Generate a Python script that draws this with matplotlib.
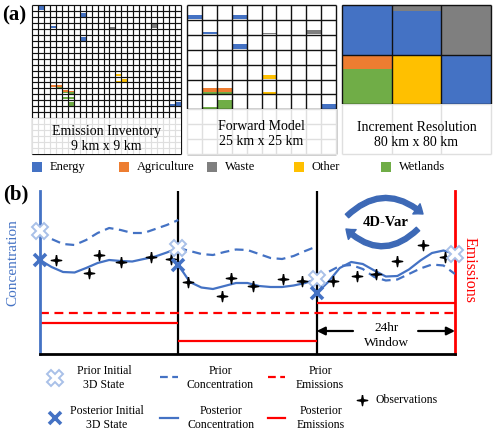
import matplotlib
matplotlib.use('Agg')
import matplotlib.pyplot as plt
from matplotlib.patches import Rectangle, FancyArrowPatch
from matplotlib.path import Path
import numpy as np

plt.rcParams['font.family'] = ['Liberation Serif', 'DejaVu Serif']

# ---------------- data: panel (a) ----------------
categories = ['Energy', 'Agriculture', 'Waste', 'Other', 'Wetlands']
cat_colors = ['#4472C4', '#ED7D31', '#7F7F7F', '#FFC000', '#70AD47']

panel_titles = ['Emission Inventory\n9 km x 9 km',
                'Forward Model\n25 km x 25 km',
                'Increment Resolution\n80 km x 80 km']
grid_cells = [25, 10, 3]
dark_rows = [19, 7, 2]

# emission patches: column, row, top fraction, bottom fraction, category index
inv_col = [1, 8, 3, 8, 13, 20, 14, 14, 15, 3, 4, 4, 5, 5, 6, 6, 5, 6, 6, 23, 24]
inv_row = [0, 1, 3, 5, 3, 3, 11, 12, 12, 13, 13, 13, 14, 14, 14, 14, 15, 15, 16, 16, 16]
inv_top = [0.15, 0.35, 0.55, 0.35, 0.65, 0.2, 0.55, 0.7, 0.4, 0.4, 0.4, 0.75, 0.25, 0.55, 0.35, 0.6, 0.4, 0.4, 0.2, 0.6, 0.2]
inv_bot = [0.85, 1.0, 0.85, 1.0, 0.95, 0.85, 0.95, 1.0, 1.0, 0.8, 0.75, 1.0, 0.55, 0.8, 0.6, 0.9, 0.8, 0.8, 0.95, 1.0, 1.0]
inv_cat = [0, 0, 0, 0, 2, 2, 3, 3, 3, 1, 1, 4, 1, 4, 1, 4, 4, 4, 4, 0, 0]

fwd_col = [0, 3, 1, 5, 8, 3, 5, 1, 2, 1, 2, 5, 1, 2, 9]
fwd_row = [0, 0, 1, 1, 1, 2, 4, 5, 5, 5, 5, 5, 6, 6, 6]
fwd_top = [0.67, 0.67, 0.83, 0.85, 0.7, 0.63, 0.72, 0.6, 0.6, 0.82, 0.82, 0.82, 0.85, 0.4, 0.64]
fwd_bot = [0.97, 0.97, 0.97, 0.97, 0.97, 0.97, 0.99, 0.82, 0.82, 0.99, 0.99, 0.99, 0.99, 0.99, 0.99]
fwd_cat = [0, 0, 0, 2, 2, 0, 3, 1, 1, 4, 4, 3, 4, 4, 0]

inc_col = [0, 1, 1, 2, 0, 0, 1, 2]
inc_row = [0, 0, 0, 0, 1, 1, 1, 1]
inc_top = [0.0, 0.0, 0.12, 0.0, 0.0, 0.28, 0.0, 0.0]
inc_bot = [1.0, 0.12, 1.0, 1.0, 0.28, 1.0, 1.0, 1.0]
inc_cat = [0, 2, 0, 2, 1, 4, 3, 0]

# ---------------- data: panel (b) ----------------
window_edges = [0, 24, 48, 72]            # hours
hours_in_window = np.arange(0, 25, 2)      # hours since window start
prior_conc = [
    [12.3, 11.5, 11.0, 10.9, 11.4, 12.1, 12.6, 12.4, 12.1, 12.1, 12.5, 12.9, 13.4],
    [10.6, 10.3, 10.0, 9.9, 10.2, 10.45, 10.4, 10.0, 9.6, 9.5, 9.8, 10.3, 10.75],
    [7.5, 8.2, 8.8, 8.9, 8.5, 7.7, 7.35, 7.45, 8.0, 8.55, 8.95, 8.85, 8.0],
]
post_conc = [
    [9.4, 8.7, 8.2, 8.15, 8.6, 9.1, 9.4, 9.3, 9.25, 9.5, 9.75, 10.15, 10.6],
    [8.9, 7.2, 6.65, 6.5, 6.8, 7.1, 7.1, 6.8, 6.7, 6.7, 6.85, 7.1, 7.5],
    [6.1, 7.2, 8.6, 9.2, 9.0, 8.35, 7.75, 7.8, 8.45, 9.35, 10.1, 10.35, 10.0],
]
obs_hours = [2.8, 8.5, 10.2, 14.1, 19.3, 22.7, 25.7, 31.6, 33.1, 37.0, 42.2, 45.5,
             50.8, 55.0, 58.3, 61.9, 66.4, 70.3]
obs_conc = [9.4, 8.1, 9.9, 9.2, 9.7, 9.5, 7.2, 5.8, 7.6, 6.8, 7.5, 7.3,
            7.3, 7.8, 8.0, 9.3, 10.9, 9.7]
prior_emis = 4.1
post_emis = [3.1, 1.3, 5.1]

BLUE = '#4472C4'
LIGHTBLUE = '#A9C0E8'
RED = '#FF0000'

W, H = 500, 433
fig = plt.figure(figsize=(W / 100, H / 100), dpi=100)


def px_axes(x0, y0, x1, y1):
    return fig.add_axes([x0 / W, 1 - y1 / H, (x1 - x0) / W, (y1 - y0) / H])


# ---------------- panel (a) grids ----------------
panel_x0 = [32, 187, 342]
text_y = [138.5, 134, 135]
cells = [(inv_col, inv_row, inv_top, inv_bot, inv_cat),
         (fwd_col, fwd_row, fwd_top, fwd_bot, fwd_cat),
         (inc_col, inc_row, inc_top, inc_bot, inc_cat)]
for i in range(3):
    ax = px_axes(panel_x0[i], 5, panel_x0[i] + 149, 154)
    n = grid_cells[i]
    ax.set_xlim(0, n)
    ax.set_ylim(n, 0)
    ax.axis('off')
    for c, r, a, b, k in zip(*cells[i]):
        ax.add_patch(Rectangle((c, r + a), 1, b - a, facecolor=cat_colors[k],
                               edgecolor='none', zorder=1))
    lw = 0.85 if i == 0 else 1.0
    ax.vlines(np.arange(n + 1), 0, n, color='#111111', lw=lw, zorder=2, clip_on=False)
    ax.hlines(np.arange(n + 1), 0, n, color='#111111', lw=lw, zorder=2, clip_on=False)
    ax.add_patch(Rectangle((-0.05, dark_rows[i]), n + 0.1, n - dark_rows[i] + 0.05,
                           facecolor='white', alpha=0.87, edgecolor='none',
                           zorder=3, clip_on=False))
    ax.text(n / 2, (text_y[i] - 5) / 149 * n, panel_titles[i], ha='center', va='center',
            fontsize=10, zorder=4, linespacing=1.2)

# ---------------- panel (b) ----------------
axb = px_axes(40, 191, 455, 354)
axb.set_xlim(window_edges[0], window_edges[-1])
axb.set_ylim(0, 16.3)
axb.set_xticks([])
axb.set_yticks([])
axb.patch.set_visible(False)
axb.spines['top'].set_visible(False)
axb.spines['left'].set_color(BLUE)
axb.spines['left'].set_linewidth(2.0)
axb.spines['right'].set_color(RED)
axb.spines['right'].set_linewidth(2.0)
axb.spines['bottom'].set_color('black')
axb.spines['bottom'].set_linewidth(2.0)
axb.vlines(window_edges[1:-1], 0, 16.3, color='black', lw=1.6, zorder=2)

# emissions
axb.hlines(prior_emis, window_edges[0], window_edges[-1], color=RED, lw=1.6,
           linestyles=[(0, (4, 2.5))], zorder=2)
for w in range(3):
    axb.hlines(post_emis[w], window_edges[w], window_edges[w + 1], color=RED, lw=1.6, zorder=2)

# concentrations
for w in range(3):
    t = window_edges[w] + hours_in_window
    axb.plot(t, prior_conc[w], color=BLUE, lw=1.6, ls=(0, (4, 2.5)), zorder=3)
    axb.plot(t, post_conc[w], color=BLUE, lw=1.6, zorder=3)

star = Path([(0, 1), (0.16, 0.16), (1, 0), (0.16, -0.16), (0, -1), (-0.16, -0.16),
             (-1, 0), (-0.16, 0.16), (0, 1)])
axb.plot(obs_hours, obs_conc, ls='none', marker=star, ms=7.5, color='black', zorder=4)

prior_x_t = window_edges
prior_x_c = [prior_conc[w][0] for w in range(3)] + [post_conc[-1][-1]]
axb.plot(prior_x_t, prior_x_c, ls='none', marker='X', ms=11, mfc='white', mec=LIGHTBLUE,
         mew=1.4, zorder=5, clip_on=False)
post_x_t = window_edges[:3]
post_x_c = [post_conc[w][0] for w in range(3)]
axb.plot(post_x_t, post_x_c, ls='none', marker='x', ms=8, mew=2.6, color=BLUE,
         zorder=6, clip_on=False)

# 24hr window arrows
axb.annotate('', xy=(window_edges[2], 2.3), xytext=(54.3, 2.3),
             arrowprops=dict(arrowstyle='-|>', color='black', lw=1.6, mutation_scale=12,
                             shrinkA=0, shrinkB=0))
axb.annotate('', xy=(window_edges[3], 2.3), xytext=(65.6, 2.3),
             arrowprops=dict(arrowstyle='-|>', color='black', lw=1.6, mutation_scale=12,
                             shrinkA=0, shrinkB=0))
axb.text(60.2, 1.85, '24hr\nWindow', ha='center', va='center', fontsize=9.5, linespacing=1.3)

# ---------------- overlay (labels, legends) ----------------
ov = fig.add_axes([0, 0, 1, 1])
ov.set_xlim(0, W)
ov.set_ylim(H, 0)
ov.axis('off')
ov.patch.set_visible(False)

ov.text(2, 15, '(a)', fontsize=15, fontweight='bold', ha='left', va='center')
ov.text(3, 194, '(b)', fontsize=15, fontweight='bold', ha='left', va='center')

# category legend
for k, name in enumerate(categories):
    x = 32 + k * 87.3
    ov.add_patch(Rectangle((x, 162), 10, 10, facecolor=cat_colors[k], edgecolor='none'))
    ov.text(x + 18, 167, name, fontsize=9, ha='left', va='center')

ov.text(13, 263, 'Concentration', rotation=90, color=BLUE, fontsize=11, ha='center', va='center')
ov.text(470, 270, 'Emissions', rotation=270, color=RED, fontsize=11.5, ha='center', va='center')

# 4D-Var cycle
ov.text(386, 222, '4D-Var', fontsize=10.5, fontweight='bold', ha='center', va='center')
arrow_style = 'simple,head_length=6,head_width=9,tail_width=3.5'
ov.add_patch(FancyArrowPatch((347, 216), (423, 214), connectionstyle='arc3,rad=-0.45',
                             arrowstyle=arrow_style, color='#3D69B6', shrinkA=0, shrinkB=0))
ov.add_patch(FancyArrowPatch((418, 229), (346, 229), connectionstyle='arc3,rad=-0.48',
                             arrowstyle=arrow_style, color='#3D69B6', shrinkA=0, shrinkB=0))

# bottom legend
fs = 8.5
ov.plot([55], [378], ls='none', marker='X', ms=11, mfc='white', mec=LIGHTBLUE, mew=1.4)
ov.text(104, 378, 'Prior Initial\n3D State', fontsize=fs, ha='center', va='center', linespacing=1.3)
ov.plot([55], [418], ls='none', marker='x', ms=8, mew=2.6, color=BLUE)
ov.text(107, 418, 'Posterior Initial\n3D State', fontsize=fs, ha='center', va='center', linespacing=1.3)
ov.plot([160, 178], [377, 377], color=BLUE, lw=1.6, ls=(0, (3.5, 2)))
ov.text(220, 378, 'Prior\nConcentration', fontsize=fs, ha='center', va='center', linespacing=1.3)
ov.plot([160, 178], [418, 418], color=BLUE, lw=1.6)
ov.text(221, 418, 'Posterior\nConcentration', fontsize=fs, ha='center', va='center', linespacing=1.3)
ov.plot([268, 285], [377, 377], color=RED, lw=1.6, ls=(0, (3.5, 2)))
ov.text(320, 378, 'Prior\nEmissions', fontsize=fs, ha='center', va='center', linespacing=1.3)
ov.plot([268, 285], [418, 418], color=RED, lw=1.6)
ov.text(321, 418, 'Posterior\nEmissions', fontsize=fs, ha='center', va='center', linespacing=1.3)
ov.plot([362], [400], ls='none', marker=star, ms=7.5, color='black')
ov.text(376, 400, 'Observations', fontsize=fs, ha='left', va='center')

fig.savefig('out.png', dpi=100)
